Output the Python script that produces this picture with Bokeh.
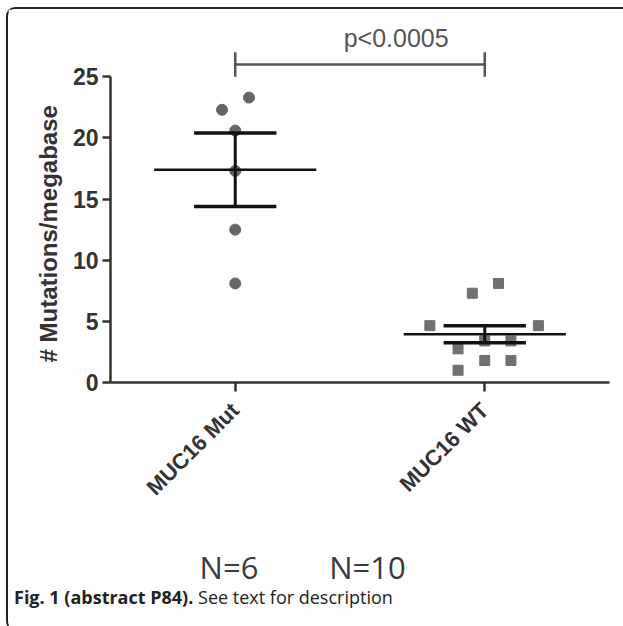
import math
from bokeh.plotting import figure
from bokeh.layouts import column
from bokeh.models import Range1d, FixedTicker, Label, LinearAxis, Div, Title
from bokeh.embed import file_html
from bokeh.resources import INLINE

# ---- data ----
groups = ["MUC16 Mut", "MUC16 WT"]
group_pos = [1, 2]
group_n = ["N=6", "N=10"]
group_n_x = [0.975, 1.53]

mut_x = [1.055, 0.947, 1.0, 1.0, 1.0, 1.0]
mut_y = [23.3, 22.3, 20.6, 17.3, 12.5, 8.1]

wt_x = [2.055, 1.95, 1.78, 2.215, 2.0, 2.105, 1.893, 2.0, 2.105, 1.893]
wt_y = [8.1, 7.3, 4.65, 4.65, 3.4, 3.4, 2.75, 1.8, 1.8, 1.0]

means = [17.4, 3.95]
sems = [3.0, 0.7]

y_ticks = [0, 5, 10, 15, 20, 25]
y_label = "# Mutations/megabase"

bracket_y = 26.0
bracket_tick = 1.0
p_text = "p<0.0005"
p_text_x = 1.645
p_text_y = 28.2

caption_bold = "Fig. 1 (abstract P84)."
caption_rest = "See text for description"

# ---- figure ----
p = figure(width=613, height=581,
           x_range=Range1d(0.5, 2.5), y_range=Range1d(0, 29.6),
           output_backend="svg", toolbar_location=None,
           min_border_left=102, min_border_right=12,
           min_border_top=11, min_border_bottom=208)
p.grid.visible = False
p.outline_line_color = None
p.background_fill_color = "white"
p.border_fill_color = "white"

AX = "#333333"
# x axis
p.xaxis.ticker = FixedTicker(ticks=group_pos)
p.xaxis.major_label_overrides = {pos: name for pos, name in zip(group_pos, groups)}
p.xaxis.major_label_orientation = math.pi / 4
p.xaxis.major_label_text_font = "Liberation Sans"
p.xaxis.major_label_text_font_style = "bold"
p.xaxis.major_label_text_font_size = "22px"
p.xaxis.major_label_text_color = AX
p.xaxis.major_label_standoff = 15
p.xaxis.axis_line_width = 2.5
p.xaxis.axis_line_color = AX
p.xaxis.major_tick_line_width = 2.5
p.xaxis.major_tick_line_color = AX
p.xaxis.major_tick_out = 9
p.xaxis.major_tick_in = 0
p.xaxis.minor_tick_line_color = None

# second (label-only) axis carrying the group sizes
n_axis = LinearAxis(ticker=FixedTicker(ticks=group_n_x),
                    major_label_overrides={x: t for x, t in zip(group_n_x, group_n)},
                    axis_line_color=None, major_tick_line_color=None,
                    minor_tick_line_color=None, major_label_standoff=28,
                    major_label_text_font="Open Sans",
                    major_label_text_font_size="31px",
                    major_label_text_color="#3a3a3a")
p.add_layout(n_axis, "below")

# y axis
p.yaxis.ticker = FixedTicker(ticks=y_ticks)
p.yaxis.bounds = (y_ticks[0], y_ticks[-1])
p.yaxis.major_label_text_font = "Liberation Sans"
p.yaxis.major_label_text_font_style = "bold"
p.yaxis.major_label_text_font_size = "23px"
p.yaxis.major_label_text_color = AX
p.yaxis.major_label_standoff = 4
p.yaxis.axis_line_width = 2.5
p.yaxis.axis_line_color = AX
p.yaxis.major_tick_line_width = 2.5
p.yaxis.major_tick_line_color = AX
p.yaxis.major_tick_out = 8
p.yaxis.major_tick_in = 0
p.yaxis.minor_tick_line_color = None

# y label as a left title so it can be centred on the 0-25 span
p.add_layout(Title(text=y_label, align="left", offset=20,
                   text_font="Liberation Sans", text_font_style="bold",
                   text_font_size="24px", text_color=AX, standoff=16), "left")

# ---- points ----
p.scatter(mut_x, mut_y, marker="circle", size=11, fill_color="#666666",
          line_color="#666666")
p.scatter(wt_x, wt_y, marker="square", size=10, fill_color="#707070",
          line_color="#707070")

# ---- mean and SEM ----
mean_half = 0.325
cap_half = 0.165
p.segment([g - mean_half for g in group_pos], means,
          [g + mean_half for g in group_pos], means,
          line_color="#111111", line_width=2.5)
p.segment(group_pos, [m - s for m, s in zip(means, sems)],
          group_pos, [m + s for m, s in zip(means, sems)],
          line_color="#111111", line_width=3)
for sign in (-1, 1):
    ys = [m + sign * s for m, s in zip(means, sems)]
    p.segment([g - cap_half for g in group_pos], ys,
              [g + cap_half for g in group_pos], ys,
              line_color="#111111", line_width=3.5)

# ---- significance bracket ----
p.segment([group_pos[0]], [bracket_y], [group_pos[1]], [bracket_y],
          line_color="#555555", line_width=2.5)
p.segment(group_pos, [bracket_y - bracket_tick] * 2,
          group_pos, [bracket_y + bracket_tick] * 2,
          line_color="#555555", line_width=2.5)
p.add_layout(Label(x=p_text_x, y=p_text_y, text=p_text, text_align="center",
                   text_baseline="middle", text_font="Liberation Sans",
                   text_font_size="25px", text_color="#555555"))

caption = Div(text=f"<b>{caption_bold}</b> {caption_rest}", width=613, height=30,
              styles={"font-family": "'Open Sans'", "font-size": "18px",
                      "color": "#222222", "padding-left": "1px",
                      "line-height": "4px"})

layout = column(p, caption, spacing=0,
                styles={"margin-left": "6px", "margin-top": "7px",
                        "border-left": "2px solid #222", "border-top": "2px solid #222",
                        "border-top-left-radius": "9px",
                        "border-bottom-left-radius": "9px"})

open("out.html", "w").write(file_html(layout, INLINE))
